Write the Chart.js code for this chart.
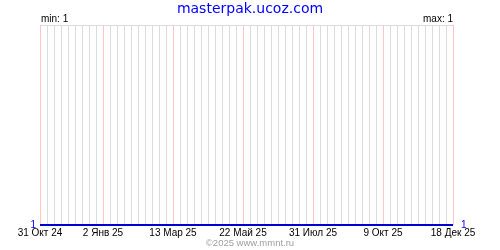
<!DOCTYPE html>
<html>
<head>
<meta charset="utf-8">
<script src="https://cdn.jsdelivr.net/npm/chart.js@4"></script>
<style>
  body { margin: 0; background: #fff; }
  #wrap { position: relative; width: 500px; height: 250px; }
  .txt { position: absolute; white-space: nowrap; font-family: "Liberation Sans", Arial, sans-serif; }
  #title { left: 0; width: 500px; top: 0; text-align: center; font: 14px/16px "DejaVu Sans", sans-serif; color: #0000ff; }
  #minv { left: 41px; top: 14px; font-size: 10px; line-height: 10px; color: #000; }
  #maxv { right: 47px; top: 14px; font-size: 10px; line-height: 10px; color: #000; }
  #foot { left: 0; width: 500px; top: 238px; text-align: center; font-size: 9.5px; line-height: 10px; color: #a0a0a0; }
</style>
</head>
<body>
<div id="wrap">
  <canvas id="myChart" width="500" height="250"></canvas>
  <div id="title" class="txt">masterpak.ucoz.com</div>
  <div id="minv" class="txt">min: 1</div>
  <div id="maxv" class="txt">max: 1</div>
  <div id="foot" class="txt">©2025 www.mmnt.ru</div>
</div>
<script>
// Дни от 31 Окт 24 и подписи
const tickDays = [0, 63, 133, 203, 273, 343, 413];
const tickLabels = ['31 Окт 24', '2 Янв 25', '13 Мар 25', '22 Май 25', '31 Июл 25', '9 Окт 25', '18 Дек 25'];
const pointDays = [0, 63, 133, 203, 273, 343, 413];
const pointValues = [1, 1, 1, 1, 1, 1, 1];
const lastDay = 413;

const font = { family: 'Liberation Sans', size: 10 };

const yTicks = {
    stepSize: 1,
    padding: 4,
    color: '#0000ff',
    font: font,
    callback: v => (v === 1 ? '1' : '')
};

const ctx = document.getElementById('myChart').getContext('2d');
const myChart = new Chart(ctx, {
    type: 'line',
    data: {
        datasets: [{
            data: pointDays.map((d, i) => ({ x: d, y: pointValues[i] })),
            borderColor: '#0000d0',
            borderWidth: 2,
            pointRadius: 0,
            fill: false,
            clip: false
        }]
    },
    options: {
        responsive: false,
        animation: false,
        devicePixelRatio: 1,
        layout: { padding: { top: 25, left: 0, right: 0, bottom: 0 } },
        plugins: { legend: { display: false }, tooltip: { enabled: false } },
        scales: {
            x: {
                type: 'linear',
                min: 0,
                max: lastDay,
                afterBuildTicks: scale => {
                    const t = [];
                    for (let d = 0; d <= lastDay; d += 7) t.push({ value: d });
                    scale.ticks = t;
                },
                afterFit: scale => { scale.height = 25; },
                border: { display: false },
                grid: {
                    drawTicks: false,
                    color: c => (tickDays.includes(c.tick.value) ? '#ffc4c4' : '#dcdcdc')
                },
                ticks: {
                    autoSkip: false,
                    maxRotation: 0,
                    padding: 2,
                    color: '#000',
                    font: font,
                    callback: v => {
                        const i = tickDays.indexOf(v);
                        return i >= 0 ? tickLabels[i] : '';
                    }
                }
            },
            y: {
                min: 1,
                max: 2,
                afterFit: scale => { scale.width = 40; },
                border: { display: false },
                grid: {
                    drawTicks: false,
                    color: c => (c.tick.value === 2 ? '#dcdcdc' : 'rgba(0,0,0,0)')
                },
                ticks: yTicks
            },
            y2: {
                position: 'right',
                min: 1,
                max: 2,
                afterFit: scale => { scale.width = 47; },
                border: { display: false },
                grid: { display: false, drawTicks: false },
                ticks: Object.assign({}, yTicks, { padding: 8 })
            }
        }
    }
});
</script>
</body>
</html>
